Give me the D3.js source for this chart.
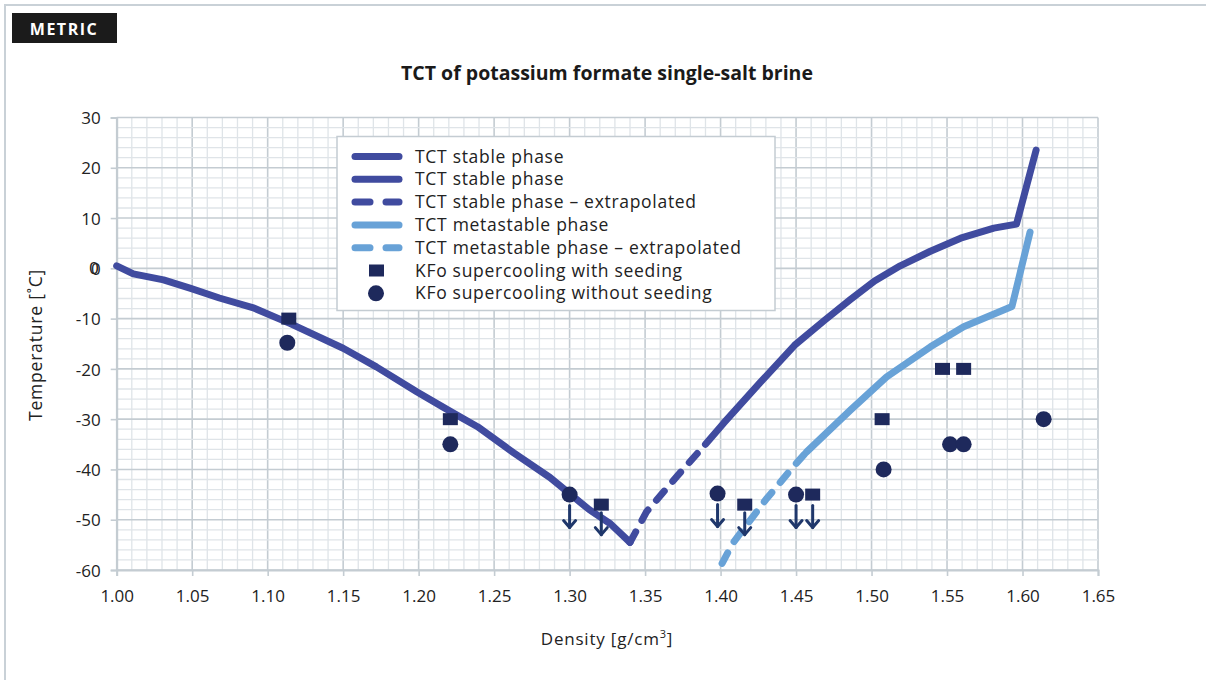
<!DOCTYPE html>
<html>
<head>
<meta charset="utf-8">
<script src="https://cdn.jsdelivr.net/npm/d3@7"></script>
<style>
  body { margin: 0; background: #fff; }
  svg { font-family: "Open Sans", Roboto, sans-serif; }
</style>
</head>
<body>
<svg id="chart" width="1206" height="680"></svg>
<script>
// Chart data (density g/cm3, temperature degC)
var stableLeft = [[1.000, 0.5], [1.011, -1.1], [1.031, -2.3], [1.049, -4], [1.068, -5.9], [1.090, -7.8],
  [1.115, -11], [1.150, -15.9], [1.172, -19.6], [1.199, -24.6], [1.223, -28.8], [1.239, -31.5],
  [1.263, -36.7], [1.287, -41.6], [1.313, -48], [1.327, -50.8], [1.340, -54.5]];
var stableExtrap = [[1.340, -54.5], [1.351, -48.4], [1.371, -41.4], [1.390, -35]];
var stableRight = [[1.390, -35], [1.402, -30.8], [1.426, -22.8], [1.449, -15.3], [1.469, -10.3],
  [1.486, -6.2], [1.502, -2.5], [1.519, 0.5], [1.539, 3.4], [1.559, 6], [1.581, 8], [1.596, 8.8], [1.609, 23.5]];
var metaExtrap = [[1.401, -58.7], [1.408, -54.7], [1.430, -46], [1.448, -39.5], [1.457, -36.5]];
var metaSolid = [[1.457, -36.5], [1.486, -28.2], [1.510, -21.6], [1.539, -15.6], [1.561, -11.6],
  [1.593, -7.6], [1.605, 7.2]];
var seeded = [[1.114, -10], [1.221, -30], [1.321, -47], [1.416, -47], [1.461, -45], [1.507, -30], [1.547, -20], [1.561, -20]];
var unseeded = [[1.113, -14.8], [1.221, -35], [1.300, -45], [1.398, -44.8], [1.450, -45], [1.508, -40], [1.552, -35], [1.561, -35], [1.614, -30]];
// points where only an upper bound was measured (arrow downward)
var arrows = [[1.300, -45, 'c'], [1.321, -47, 's'], [1.398, -44.8, 'c'], [1.416, -47, 's'], [1.450, -45, 'c'], [1.461, -45, 'c']];
var xTicks = [1.00, 1.05, 1.10, 1.15, 1.20, 1.25, 1.30, 1.35, 1.40, 1.45, 1.50, 1.55, 1.60, 1.65];
var yTicks = [30, 20, 10, 0, -10, -20, -30, -40, -50, -60];
var legendItems = ["TCT stable phase", "TCT stable phase", "TCT stable phase \u2013 extrapolated",
  "TCT metastable phase", "TCT metastable phase \u2013 extrapolated",
  "KFo supercooling with seeding", "KFo supercooling without seeding"];

var dark = "#404b9f", light = "#68a2d7", navy = "#1e295c", arrowCol = "#1f376b";

var svg = d3.select("#chart");
var plotL = 116.7, plotR = 1098, plotT = 117.5, plotB = 570;

// outer frame + badge
svg.append("line").attr("x1", 4).attr("x2", 1206).attr("y1", 5).attr("y2", 5)
  .attr("stroke", "#c9d1d7").attr("stroke-width", 2);
svg.append("line").attr("x1", 5).attr("x2", 5).attr("y1", 5).attr("y2", 680)
  .attr("stroke", "#c9d1d7").attr("stroke-width", 2);
svg.append("rect").attr("x", 12).attr("y", 13).attr("width", 105).attr("height", 30).attr("fill", "#1b1b1b");
svg.append("text").attr("x", 64).attr("y", 34.5).attr("text-anchor", "middle")
  .attr("fill", "#fff").attr("font-weight", 700).attr("font-size", 16).attr("letter-spacing", 1.5)
  .text("METRIC");

svg.append("text").attr("x", 607).attr("y", 80).attr("text-anchor", "middle")
  .attr("font-weight", 700).attr("font-size", 19.5).attr("fill", "#1a1a1a")
  .text("TCT of potassium formate single-salt brine");

var x = d3.scaleLinear().domain([1.0, 1.65]).range([plotL, plotR]);
var y = d3.scaleLinear().domain([-60, 30]).range([plotB, plotT]);

// grid
var grid = svg.append("g");
grid.selectAll(".vmin").data(d3.range(0, 66)).join("line")
  .attr("x1", i => x(1 + i / 100)).attr("x2", i => x(1 + i / 100))
  .attr("y1", plotT).attr("y2", plotB)
  .attr("stroke", i => i % 5 === 0 ? "#c4ccd2" : "#dfe4e8").attr("stroke-width", i => i % 5 === 0 ? 1.6 : 1.3);
grid.selectAll(".hmin").data(d3.range(0, 46)).join("line")
  .attr("y1", i => y(-60 + i * 2)).attr("y2", i => y(-60 + i * 2))
  .attr("x1", plotL).attr("x2", plotR)
  .attr("stroke", i => i % 5 === 0 ? "#c4ccd2" : "#dfe4e8").attr("stroke-width", i => i % 5 === 0 ? 1.6 : 1.3);

// axes
var xAxis = d3.axisBottom(x).tickValues(xTicks).tickFormat(d3.format(".2f")).tickSize(6).tickPadding(14);
var yAxis = d3.axisLeft(y).tickValues(yTicks).tickFormat(d => String(d)).tickSize(6).tickPadding(10);
var gx = svg.append("g").attr("transform", "translate(0," + plotB + ")").call(xAxis);
var gy = svg.append("g").attr("transform", "translate(" + plotL + ",0)").call(yAxis);
[gx, gy].forEach(function (g) {
  g.select(".domain").attr("stroke", "#c4ccd2").attr("stroke-width", 2);
  g.selectAll(".tick line").attr("stroke", "#c4ccd2").attr("stroke-width", 1.6);
  g.selectAll("text").attr("font-size", 17).attr("fill", "#222").attr("font-family", "'Open Sans', sans-serif");
});
gy.selectAll(".tick text").attr("dy", "0.36em");
// doubled zero label as in the source
gy.selectAll(".tick").filter(d => d === 0).append("text")
  .attr("x", -18).attr("dy", "0.3em").attr("text-anchor", "end")
  .attr("font-size", 17).attr("fill", "#222").text("0");

svg.append("text").attr("x", 607).attr("y", 645).attr("text-anchor", "middle")
  .attr("font-size", 17).attr("letter-spacing", 0.8).attr("fill", "#222")
  .html('Density [g/cm<tspan dy="-7" font-size="11">3</tspan><tspan dy="7">]</tspan>');
svg.append("text").attr("transform", "translate(42,345) rotate(-90)").attr("text-anchor", "middle")
  .attr("font-size", 17.5).attr("letter-spacing", 0.8).attr("fill", "#222").text("Temperature [\u02daC]");

// lines
var line = d3.line().x(d => x(d[0])).y(d => y(d[1]));
function drawLine(data, color, dash) {
  svg.append("path").datum(data).attr("d", line).attr("fill", "none")
    .attr("stroke", color).attr("stroke-width", 7)
    .attr("stroke-linecap", "round").attr("stroke-linejoin", "round")
    .attr("stroke-dasharray", dash || null);
}
drawLine(stableLeft, dark);
drawLine(stableExtrap, dark, "12,13");
drawLine(stableRight, dark);
drawLine(metaExtrap, light, "12,13");
drawLine(metaSolid, light);

// markers
svg.selectAll(".sq").data(seeded).join("rect")
  .attr("x", d => x(d[0]) - 7.5).attr("y", d => y(d[1]) - 6)
  .attr("width", 15).attr("height", 12).attr("fill", navy);
svg.selectAll(".ci").data(unseeded).join("circle")
  .attr("cx", d => x(d[0])).attr("cy", d => y(d[1])).attr("r", 8).attr("fill", navy);

// downward arrows
var ag = svg.append("g").attr("stroke", arrowCol).attr("fill", "none")
  .attr("stroke-width", 3).attr("stroke-linecap", "round").attr("stroke-linejoin", "round");
arrows.forEach(function (a) {
  var cx = x(a[0]), y0 = y(a[1]) + (a[2] === 's' ? 8 : 11), y1 = y0 + 22;
  ag.append("line").attr("x1", cx).attr("x2", cx).attr("y1", y0).attr("y2", y1);
  ag.append("path").attr("d", "M" + (cx - 6) + "," + (y1 - 7) + "L" + cx + "," + y1 + "L" + (cx + 6) + "," + (y1 - 7));
});

// legend
var lg = svg.append("g");
lg.append("rect").attr("x", 337).attr("y", 136.5).attr("width", 438).attr("height", 174)
  .attr("fill", "#fff").attr("stroke", "#c4ccd2").attr("stroke-width", 1.5);
legendItems.forEach(function (t, i) {
  var yy = 156.5 + i * 22.8;
  var g = lg.append("g");
  if (i < 5) {
    var col = i < 3 ? dark : light;
    var segs = (i === 2 || i === 4) ? [[355, 370], [386, 399]] : [[355, 399]];
    segs.forEach(function (s) {
      g.append("line").attr("x1", s[0]).attr("x2", s[1]).attr("y1", yy).attr("y2", yy)
        .attr("stroke", col).attr("stroke-width", 7).attr("stroke-linecap", "round");
    });
  } else if (i === 5) {
    g.append("rect").attr("x", 369).attr("y", yy - 6).attr("width", 15).attr("height", 12).attr("fill", navy);
  } else {
    g.append("circle").attr("cx", 376).attr("cy", yy).attr("r", 8).attr("fill", navy);
  }
  g.append("text").attr("x", 415).attr("y", yy).attr("dy", "0.35em")
    .attr("font-size", 17.5).attr("letter-spacing", 0.7).attr("fill", "#222").text(t);
});
</script>
</body>
</html>
